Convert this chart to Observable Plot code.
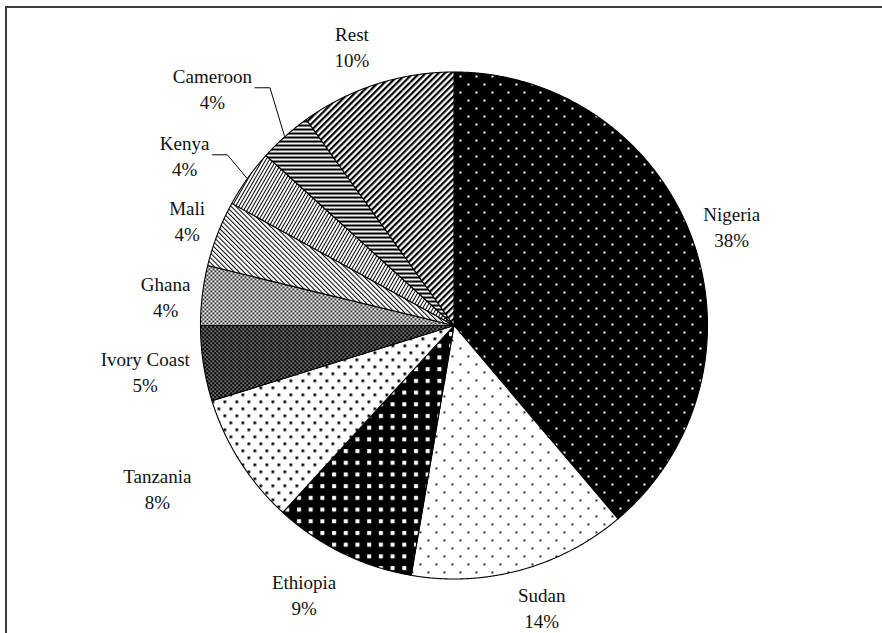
<!DOCTYPE html>
<html><head><meta charset="utf-8">
<script src="https://cdn.jsdelivr.net/npm/d3@7"></script>
<script src="https://cdn.jsdelivr.net/npm/@observablehq/plot@0.6"></script>
<style>
html,body{margin:0;padding:0;background:#fff;overflow:hidden;}
#wrap{position:relative;width:882px;height:633px;overflow:hidden;background:#fff;}
#frame{position:absolute;left:5px;top:6px;width:1200px;height:1200px;border-left:2px solid #3c3c3c;border-top:2px solid #3c3c3c;}
#chart{position:absolute;left:0;top:0;}
</style></head><body>
<div id="wrap"><div id="frame"></div><div id="chart"></div></div>
<script>
// ---- data ----
const countries = ["Nigeria","Sudan","Ethiopia","Tanzania","Ivory Coast","Ghana","Mali","Kenya","Cameroon","Rest"];
const shares = [38.8, 13.9, 9.1, 8.4, 4.8, 3.8, 4.2, 3.7, 3.4, 9.9];
const shareLabels = ["38%","14%","9%","8%","5%","4%","4%","4%","4%","10%"];

// ---- layout ----
const W = 882, H = 633, CX = 453.5, CY = 325, R = 253.5;
const labelRadius = [1.164, 1.163, 1.212, 1.333, 1.231, 1.144, 1.132, 1.258, 1.337, 1.176];
const labelNudge = [0.4, -2, 3.1, 3.8, 0.3, -0.9, 0.3, -3.1, -3.7, -2.2];
const leaderFor = new Set(["Kenya", "Cameroon"]);
const FONT = "Liberation Serif", FS = 19;

const arcs = d3.pie().sort(null).value(d => d)(shares);

const sliceRows = [];
arcs.forEach((p, i) => {
  const name = countries[i];
  const n = Math.max(2, Math.ceil((p.endAngle - p.startAngle) / (Math.PI / 720)));
  sliceRows.push({name, i, x: 0, y: 0});
  for (let j = 0; j <= n; j++) {
    const a = p.startAngle + (p.endAngle - p.startAngle) * j / n;
    sliceRows.push({name, i, x: Math.sin(a), y: Math.cos(a)});
  }
  sliceRows.push({name, i, x: 0, y: 0});
});

const labelRows = arcs.map((p, i) => {
  const mid = (p.startAngle + p.endAngle) / 2;
  const a = mid + labelNudge[i] * Math.PI / 180;
  return {name: countries[i], pct: shareLabels[i], mid, x: labelRadius[i] * Math.sin(a), y: labelRadius[i] * Math.cos(a)};
});

const ctx = document.createElement("canvas").getContext("2d");
ctx.font = `${FS}px "${FONT}"`;
const leaderRows = [];
labelRows.filter(d => leaderFor.has(d.name)).forEach(d => {
  const w = Math.max(ctx.measureText(d.name).width, ctx.measureText(d.pct).width);
  leaderRows.push({name: d.name, x: 1.005 * Math.sin(d.mid), y: 1.005 * Math.cos(d.mid)});
  leaderRows.push({name: d.name, x: d.x + (w / 2 + 18) / R, y: d.y});
  leaderRows.push({name: d.name, x: d.x + (w / 2 + 3) / R, y: d.y});
});

const marks = countries.map((c, i) =>
  Plot.line(sliceRows.filter(d => d.i === i), {
    x: "x", y: "y", fill: `url(#pat${i})`, stroke: "#000", strokeWidth: 1.1, strokeLinejoin: "round"
  })
);
marks.push(Plot.line(leaderRows, {x: "x", y: "y", z: "name", stroke: "#000", strokeWidth: 1}));
marks.push(Plot.text(labelRows, {
  x: "x", y: "y", text: d => `${d.name}\n${d.pct}`,
  fontSize: FS, fontFamily: FONT, lineHeight: 1.37, fill: "#111"
}));

const svg = Plot.plot({
  width: W, height: H, margin: 0,
  x: {domain: [-CX / R, (W - CX) / R], axis: null},
  y: {domain: [-(H - CY) / R, CY / R], axis: null},
  style: {background: "transparent", overflow: "visible"},
  marks
});

const defs = document.createElementNS("http://www.w3.org/2000/svg", "defs");
defs.innerHTML = `
<pattern id="pat0" patternUnits="userSpaceOnUse" width="16" height="16"><rect width="16" height="16" fill="#000"/><rect x="3" y="3" width="2" height="2" fill="#fff"/><rect x="11" y="11" width="2" height="2" fill="#fff"/></pattern>
<pattern id="pat1" patternUnits="userSpaceOnUse" width="16" height="16"><rect width="16" height="16" fill="#fff"/><rect x="3" y="3" width="1.8" height="1.8" fill="#000"/><rect x="11" y="11" width="1.8" height="1.8" fill="#000"/></pattern>
<pattern id="pat2" patternUnits="userSpaceOnUse" width="11.7" height="11.7"><rect width="11.7" height="11.7" fill="#000"/><rect x="4" y="4" width="4" height="4" fill="#fff"/></pattern>
<pattern id="pat3" patternUnits="userSpaceOnUse" width="12" height="14"><rect width="12" height="14" fill="#fff"/><rect x="1" y="1" width="2.7" height="2.7" fill="#000"/><rect x="7" y="8" width="2.7" height="2.7" fill="#000"/></pattern>
<pattern id="pat4" patternUnits="userSpaceOnUse" width="4" height="4"><rect width="4" height="4" fill="#000"/><rect x="0" y="0" width="1.3" height="1.3" fill="#fff"/><rect x="2" y="2" width="1.3" height="1.3" fill="#fff"/></pattern>
<pattern id="pat5" patternUnits="userSpaceOnUse" width="4" height="4"><rect width="4" height="4" fill="#fff"/><rect x="0" y="0" width="1.8" height="1.8" fill="#000"/><rect x="2" y="2" width="1.8" height="1.8" fill="#000"/></pattern>
<pattern id="pat6" patternUnits="userSpaceOnUse" width="3.4" height="10" patternTransform="rotate(-45)"><rect width="3.4" height="10" fill="#fff"/><rect width="1" height="10" fill="#000"/></pattern>
<pattern id="pat7" patternUnits="userSpaceOnUse" width="3" height="10" patternTransform="rotate(30)"><rect width="3" height="10" fill="#fff"/><rect width="1" height="10" fill="#000"/></pattern>
<pattern id="pat8" patternUnits="userSpaceOnUse" width="10" height="4"><rect width="10" height="4" fill="#fff"/><rect width="10" height="2.1" fill="#000"/></pattern>
<pattern id="pat9" patternUnits="userSpaceOnUse" width="4.5" height="10" patternTransform="rotate(45)"><rect width="4.5" height="10" fill="#fff"/><rect width="2.2" height="10" fill="#000"/></pattern>
`;
svg.insertBefore(defs, svg.firstChild);
document.getElementById("chart").appendChild(svg);
</script>
</body></html>
